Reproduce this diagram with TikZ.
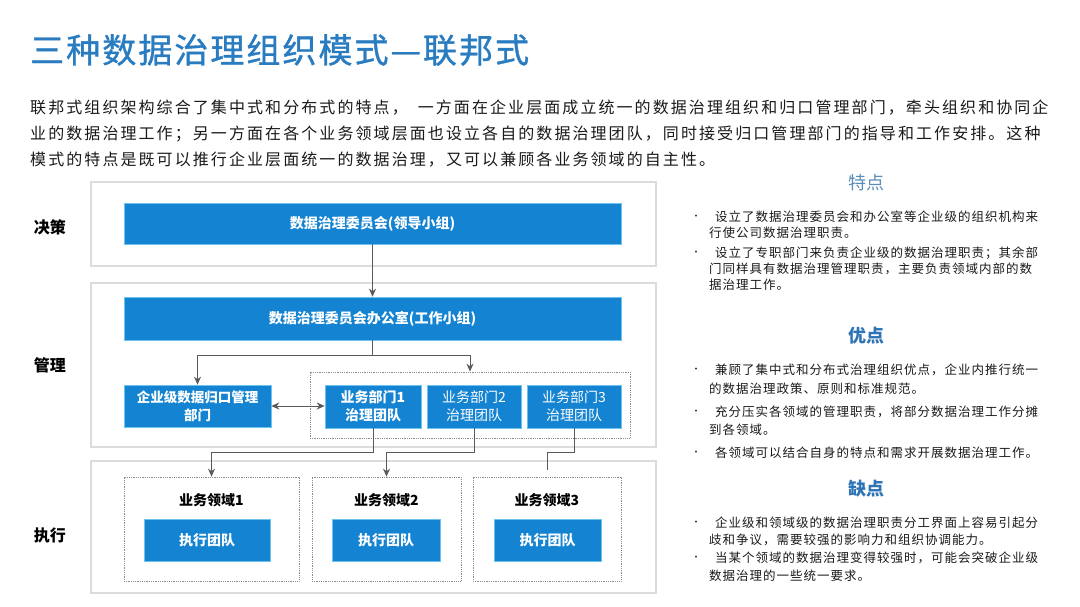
\documentclass[tikz,border=0pt]{standalone}
\usepackage{fontspec}
\setmainfont{Noto Sans CJK SC}
\newfontfamily\titlefont[LetterSpace=6,FakeBold=1]{Noto Sans CJK SC}
\newfontfamily\bodyfont[LetterSpace=13]{Noto Sans CJK SC}
\newfontfamily\listfont[LetterSpace=8]{Noto Sans CJK SC}
\usetikzlibrary{arrows.meta,positioning,calc}
\definecolor{boxblue}{HTML}{1483D1}
\definecolor{boxedge}{HTML}{6CC3EE}
\definecolor{titleblue}{HTML}{2A7CC0}
\definecolor{headblue}{HTML}{2F75B5}
\definecolor{softblue}{HTML}{5B8DB8}
\definecolor{panelline}{HTML}{DCDCDC}
\definecolor{arrowgray}{HTML}{595959}
\definecolor{dotgray}{HTML}{8C8C8C}
\definecolor{bodytext}{HTML}{1A1A1A}

\tikzset{
 boxsize/.style 2 args={minimum width=#1,minimum height=#2},
 panel/.style={draw=panelline,fill=white,line width=1.2pt,inner sep=0pt},
 bluebox/.style={draw=boxedge,fill=boxblue,line width=0.6pt,text=white,inner sep=0pt,align=center,
  font=\fontsize{14}{18}\selectfont\bfseries},
 dotbox/.style={draw=dotgray,densely dotted,line width=0.8pt,inner sep=0pt},
 levelname/.style={font=\fontsize{16}{18}\selectfont\bfseries},
 domainname/.style={font=\fontsize{14}{16}\selectfont\bfseries},
 arr/.style={draw=arrowgray,line width=1pt,-{Stealth[length=8pt,width=7pt]}},
 link/.style={draw=arrowgray,line width=1pt},
 bodyline/.style={anchor=west,inner sep=0pt,text=bodytext,font=\bodyfont\fontsize{16}{18}\selectfont},
 listline/.style={anchor=west,inner sep=0pt,text=bodytext,font=\listfont\fontsize{12.5}{15}\selectfont},
 bulletdot/.style={inner sep=0pt,text=bodytext,font=\fontsize{9}{10}\selectfont},
}

\begin{document}
\begin{tikzpicture}[x=1pt,y=-1pt]
\useasboundingbox[fill=white] (0,0) rectangle (1080,606);

% title and intro
\node[anchor=west,inner sep=0pt,text=titleblue,font=\titlefont\fontsize{34}{38}\selectfont] (title) at (30,50) {三种数据治理组织模式—联邦式};
\foreach \y/\t [count=\k] in {108/{联邦式组织架构综合了集中式和分布式的特点，\hspace{10pt}一方面在企业层面成立统一的数据治理组织和归口管理部门，牵头组织和协同企},
 134/{业的数据治理工作；另一方面在各个业务领域层面也设立各自的数据治理团队，同时接受归口管理部门的指导和工作安排。这种},
 160/{模式的特点是既可以推行企业层面统一的数据治理，又可以兼顾各业务领域的自主性。}}
 \node[bodyline] (intro\k) at (30,\y) {\t};

% three levels
\node[panel,boxsize={565pt}{84pt}] (decide) at (373.5,224) {};
\node[panel,boxsize={565pt}{164pt}] (manage) at (373.5,365) {};
\node[panel,boxsize={565pt}{132pt}] (execute) at (373.5,527) {};
\node[levelname] (decidename) at (50,227) {决策};
\node[levelname] (managename) at (50,365) {管理};
\node[levelname] (executename) at (50,535) {执行};

% decision and management
\node[bluebox,boxsize={497pt}{41pt}] (board) at (372.5,223.5) {数据治理委员会(领导小组)};
\node[bluebox,boxsize={497pt}{43pt}] (office) at (372.5,318.5) {数据治理委员会办公室(工作小组)};
\node[dotbox,boxsize={320pt}{66pt}] (deptgroup) at (470,405) {};
\node[bluebox,boxsize={147pt}{42pt},font=\fontsize{13.5}{18}\selectfont\bfseries] (central) at (197.5,406) {企业级数据归口管理\\部门};
\node[bluebox,boxsize={96pt}{43pt}] (dept1) at (373,406.5) {业务部门1\\治理团队};
\node[bluebox,boxsize={94pt}{43pt},font=\fontsize{14}{18}\selectfont] (dept2) at (474,406.5) {业务部门2\\治理团队};
\node[bluebox,boxsize={94pt}{43pt},font=\fontsize{14}{18}\selectfont] (dept3) at (574,406.5) {业务部门3\\治理团队};

% execution
\foreach \i/\x/\w/\ex/\ew in {1/211.5/175/207/126,2/386.5/149/386/108,3/547/148/547.5/107} {
 \node[dotbox,boxsize={\w pt}{104pt}] (domain\i) at (\x,529) {};
 \node[domainname] (domainname\i) at (\x,500) {业务领域\i};
 \node[bluebox,boxsize={\ew pt}{42pt}] (team\i) at (\ex,540) {执行团队};
}

% connectors
\draw[arr] (board) -- (office);
\draw[arr] (office.south) -- ++(0,15) -| (central.north);
\draw[arr] (office.south) ++(0,15) -| (deptgroup.north);
\draw[arr,{Stealth[length=8pt,width=7pt]}-{Stealth[length=8pt,width=7pt]}] (central.east) -- (central.east -| dept1.west);
\draw[arr] (dept1.south) -- ++(0,24) -| (domain1.north);
\draw[arr] (dept2.south) -- ++(0,24) -| (domain2.north);
\draw[link] (dept3.south) -- ++(0,24) -| ($(domain3.north)+(0,-7)$);

% right column
\node[text=softblue,font=\fontsize{18}{20}\selectfont] (traithead) at (866,183) {特点};
\node[text=headblue,font=\fontsize{18}{20}\selectfont\bfseries] (prohead) at (866,336) {优点};
\node[text=headblue,font=\fontsize{18}{20}\selectfont\bfseries] (conhead) at (866,489) {缺点};
\foreach \y in {217,253,370,412,453,523,558}
 \node[bulletdot] (dot\y) at (696,\y) {•};
\foreach \x/\y/\t [count=\k] in {
 715/217/{设立了数据治理委员会和办公室等企业级的组织机构来},
 709/233/{行使公司数据治理职责。},
 715/253/{设立了专职部门来负责企业级的数据治理职责；其余部},
 709/269/{门同样具有数据治理管理职责，主要负责领域内部的数},
 709/285/{据治理工作。},
 715/370/{兼顾了集中式和分布式治理组织优点，企业内推行统一},
 709/389/{的数据治理政策、原则和标准规范。},
 715/412/{充分压实各领域的管理职责，将部分数据治理工作分摊},
 709/430/{到各领域。},
 715/453/{各领域可以结合自身的特点和需求开展数据治理工作。},
 715/523/{企业级和领域级的数据治理职责分工界面上容易引起分},
 709/540/{歧和争议，需要较强的影响力和组织协调能力。},
 715/558/{当某个领域的数据治理变得较强时，可能会突破企业级},
 709/576/{数据治理的一些统一要求。}}
 \node[listline] (item\k) at (\x,\y) {\t};
\end{tikzpicture}
\end{document}
